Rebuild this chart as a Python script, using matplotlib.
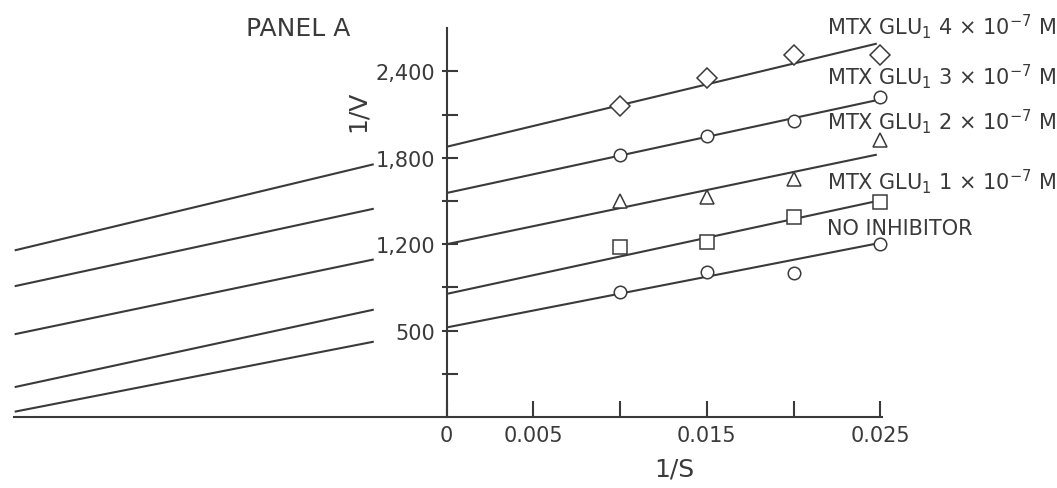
"""
Lineweaver-Burk plot, panel A: 1/V against 1/S for MTX GLU1 at four
concentrations plus the uninhibited enzyme.
"""
import numpy as np
import matplotlib
matplotlib.use('Agg')
import matplotlib.pyplot as plt

# ---------------------------------------------------------------------
# Data
# ---------------------------------------------------------------------
INV_S = [0.010, 0.015, 0.020, 0.025]

V_NONE = [868, 1006, 999, 1200]
V_1E7 = [1179, 1218, 1392, 1491]
V_2E7 = [1503, 1531, 1656, 1925]
V_3E7 = [1819, 1949, 2055, 2226]
V_4E7 = [2157, 2353, 2512, 2512]

# fitted lines: 1/V intercept at 1/S = 0, and slope
INTERCEPTS = [622, 855, 1200, 1556, 1877]
SLOPES = [23500, 26000, 25100, 26000, 28900]

SERIES_LABELS = [
    'NO INHIBITOR',
    r'MTX GLU$_1$ 1 $\times$ 10$^{-7}$ M',
    r'MTX GLU$_1$ 2 $\times$ 10$^{-7}$ M',
    r'MTX GLU$_1$ 3 $\times$ 10$^{-7}$ M',
    r'MTX GLU$_1$ 4 $\times$ 10$^{-7}$ M',
]
LABEL_Y = [1272, 1589, 2006, 2316, 2663]

Y_TICKS = [300, 600, 900, 1200, 1500, 1800, 2100, 2400]
Y_TICKLABELS = ['', '500', '', '1,200', '', '1,800', '', '2,400']
X_TICKS = [0, 0.005, 0.010, 0.015, 0.020, 0.025]
X_TICKLABELS = ['0', '0.005', '', '0.015', '', '0.025']

INK = '#3a3a3a'
plt.rcParams['font.family'] = ['DejaVu Sans']
plt.rcParams['mathtext.fontset'] = 'dejavusans'

# ---------------------------------------------------------------------
# Figure
# ---------------------------------------------------------------------
fig = plt.figure(figsize=(10.57, 4.89), dpi=100)
ax = fig.add_axes([0.01325, 0.1452, 0.8212, 0.7949])
ax.set_xlim(-0.02494, 0.0251)
ax.set_ylim(0, 2700)

# regression lines, drawn on both sides of the y axis with a gap near it
for a, b in zip(INTERCEPTS, SLOPES):
    for seg in ([-0.0249, -0.0042], [0.0, 0.0248]):
        xs = np.array(seg)
        ax.plot(xs, a + b * xs, color=INK, linewidth=1.5, solid_capstyle='butt',
                zorder=2)

mk = dict(linestyle='none', markerfacecolor='white', markeredgecolor=INK,
          markeredgewidth=1.1, zorder=3, clip_on=False)
ax.plot(INV_S, V_NONE, marker='o', markersize=9, **mk)
ax.plot(INV_S, V_1E7, marker='s', markersize=9.5, **mk)
ax.plot(INV_S, V_2E7, marker='^', markersize=10, **mk)
ax.plot(INV_S, V_3E7, marker='o', markersize=9, **mk)
ax.plot(INV_S, V_4E7, marker='D', markersize=10.5, **mk)

for text, y in zip(SERIES_LABELS, LABEL_Y):
    ax.text(0.0219, y, text, fontsize=15, color=INK, ha='left', va='baseline',
            clip_on=False)

# axes styling
for side in ('top', 'right'):
    ax.spines[side].set_visible(False)
ax.spines['left'].set_position(('data', 0))
for side in ('left', 'bottom'):
    ax.spines[side].set_color(INK)
    ax.spines[side].set_linewidth(1.5)

ax.set_yticks(Y_TICKS)
ax.set_yticklabels(Y_TICKLABELS)
ax.tick_params(axis='y', direction='in', length=8, width=1.5, color=INK,
               labelsize=15, labelcolor=INK, pad=8.5)
# short stubs on the outer side of the y axis
ax.yaxis.remove_overlapping_locs = False
ax.set_yticks(Y_TICKS, minor=True)
ax.tick_params(axis='y', which='minor', direction='out', length=3.5, width=1.5,
               color=INK)

ax.set_xticks(X_TICKS)
ax.set_xticklabels(X_TICKLABELS)
ax.tick_params(axis='x', direction='in', length=11.5, width=1.5, color=INK,
               labelsize=15, labelcolor=INK, pad=5.5)

fig.text(246 / 1057, 1 - 36.5 / 489, 'PANEL A', fontsize=18, color=INK,
         ha='left', va='baseline')
fig.text(357.5 / 1057, 1 - 111 / 489, '1/V', fontsize=18, color=INK,
         rotation=90, ha='center', va='center')
fig.text(674 / 1057, 1 - 470 / 489, '1/S', fontsize=18, color=INK,
         ha='center', va='center')

plt.savefig('out.png', dpi=100)
